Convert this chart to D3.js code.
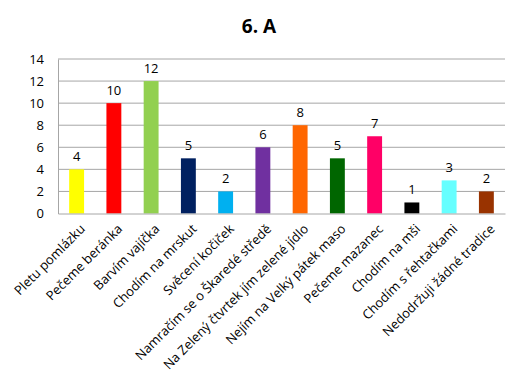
<!DOCTYPE html>
<html><head><meta charset="utf-8">
<script src="https://cdn.jsdelivr.net/npm/d3@7"></script>
<style>body{margin:0;background:#fff;} text{font-family:"Open Sans",sans-serif;}</style>
</head><body>
<svg id="c" width="518" height="381"></svg>
<script>
const categories = ["Pletu pomlázku","Pečeme beránka","Barvím vajíčka","Chodím na mrskut","Svěcení kočiček","Namračím se o Škaredé středě","Na Zelený čtvrtek jím zelené jídlo","Nejím na Velký pátek maso","Pečeme mazanec","Chodím na mši","Chodím s řehtačkami","Nedodržuji žádné tradice"];
const values = [4,10,12,5,2,6,8,5,7,1,3,2];
const colors = ["#FFFF00","#FF0000","#92D050","#002060","#00B0F0","#7030A0","#FF6600","#006600","#FF0066","#000000","#66FFFF","#993300"];
const yTicks = [0,2,4,6,8,10,12,14];
const title = "6. A";

const svg = d3.select("#c");
const m = {l:58, r:505, t:59, b:213.5};
const x = d3.scaleBand().domain(categories).range([m.l, m.r]).paddingInner(0.6).paddingOuter(0.3);
const y = d3.scaleLinear().domain([0,14]).range([m.b, m.t]);

svg.append("text").attr("x",259).attr("y",33).attr("text-anchor","middle")
  .attr("font-size",19).attr("font-weight","bold").attr("fill","#000").text(title);

svg.append("g").selectAll("line").data(yTicks.slice(1)).join("line")
  .attr("x1",m.l).attr("x2",m.r).attr("y1",d=>y(d)).attr("y2",d=>y(d))
  .attr("stroke","#A6A6A6").attr("stroke-width",1);

const ya = svg.append("g").attr("transform",`translate(${m.l},0)`)
  .call(d3.axisLeft(y).tickValues(yTicks).tickSize(0).tickPadding(14));
ya.select(".domain").attr("stroke","#A6A6A6");
ya.selectAll("text").attr("font-size",13).attr("fill","#000").style("font-family","Open Sans");

svg.append("g").selectAll("rect").data(values).join("rect")
  .attr("x",(d,i)=>x(categories[i])).attr("width",x.bandwidth())
  .attr("y",d=>y(d)).attr("height",d=>y(0)-y(d))
  .attr("fill",(d,i)=>colors[i]);

svg.append("g").selectAll("text").data(values).join("text")
  .attr("x",(d,i)=>x(categories[i])+x.bandwidth()/2).attr("y",d=>y(d)-8)
  .attr("text-anchor","middle").attr("font-size",13).attr("fill","#000").text(d=>d);

const xa = svg.append("g").attr("transform",`translate(0,${m.b})`)
  .call(d3.axisBottom(x).tickSize(0).tickFormat(""));
xa.select(".domain").attr("stroke","#A6A6A6");

svg.append("g").selectAll("text").data(categories).join("text")
  .attr("transform",d=>`translate(${x(d)+x.bandwidth()/2+6},${m.b+13}) rotate(-45)`)
  .attr("text-anchor","end").attr("dy","0.35em")
  .attr("font-size",13).attr("fill","#000").text(d=>d);
</script>
</body></html>
